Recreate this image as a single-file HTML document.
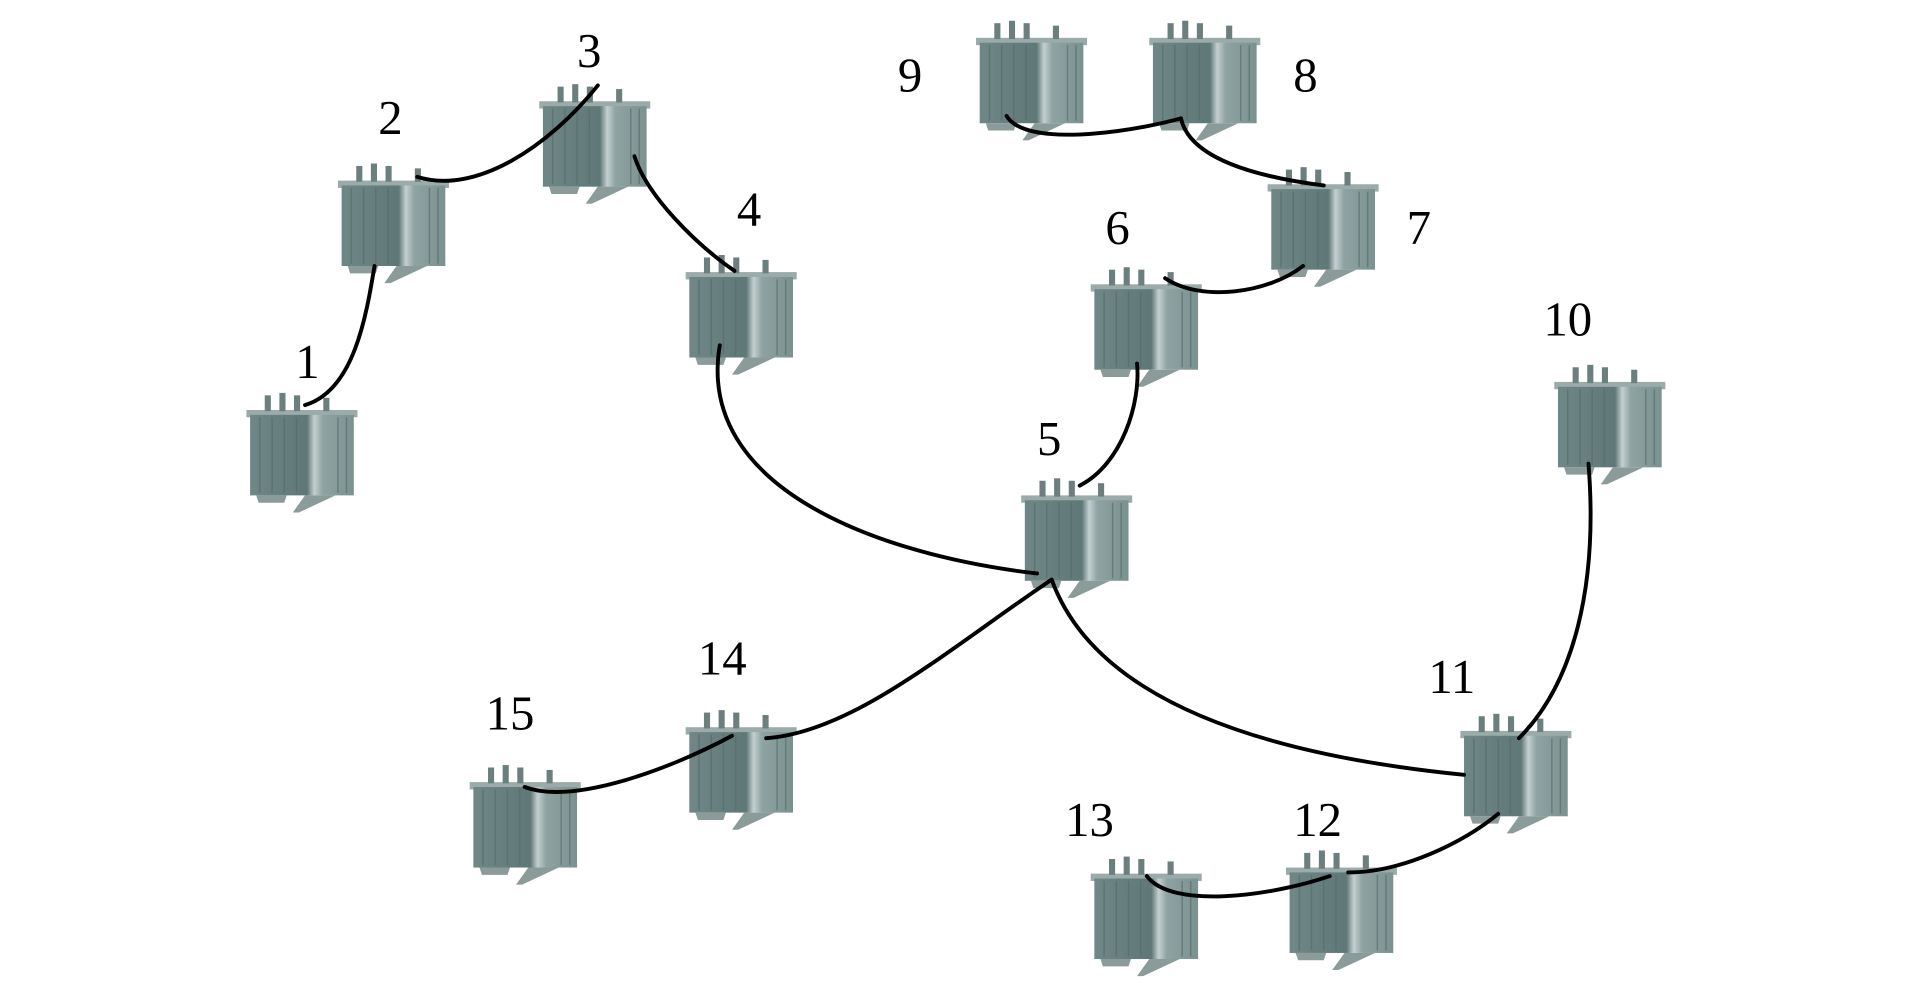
<!DOCTYPE html>
<html><head><style>html,body{margin:0;padding:0;background:#fff;}svg{display:block}</style></head>
<body>
<svg width="1913" height="992" viewBox="0 0 1568 813" preserveAspectRatio="none" xmlns="http://www.w3.org/2000/svg">
<defs>
<linearGradient id="g" x1="0" x2="1" y1="0" y2="0">
<stop offset="0" stop-color="#6f8786"/><stop offset="0.55" stop-color="#5f7877"/><stop offset="0.62" stop-color="#c4d0cf"/><stop offset="0.7" stop-color="#8ea3a2"/><stop offset="1" stop-color="#7b918f"/>
</linearGradient>
<g id="t">
<rect x="-3" y="-4" width="91" height="6" fill="#9aabaa"/>
<rect x="12" y="-16" width="5" height="13" fill="#6c7f7e"/>
<rect x="24" y="-18" width="5" height="15" fill="#6c7f7e"/>
<rect x="36" y="-16" width="5" height="13" fill="#6c7f7e"/>
<rect x="60" y="-14" width="5" height="11" fill="#6c7f7e"/>
<rect x="0" y="0" width="85" height="66" fill="url(#g)"/>
<g stroke="#51696a" stroke-width="1.2" opacity="0.6">
<line x1="8" y1="2" x2="8" y2="64"/><line x1="18" y1="2" x2="18" y2="64"/><line x1="28" y1="2" x2="28" y2="64"/><line x1="38" y1="2" x2="38" y2="64"/><line x1="72" y1="2" x2="72" y2="64"/><line x1="79" y1="2" x2="79" y2="64"/>
</g>
<polygon points="5,66 30,66 28,72 7,72" fill="#8a9b9a"/>
<polygon points="45,66 70,66 40,80 35,80" fill="#8a9b9a"/>
</g>
</defs>
<use href="#t" x="205" y="340"/>
<use href="#t" x="280" y="152"/>
<use href="#t" x="445" y="87"/>
<use href="#t" x="565" y="227"/>
<use href="#t" x="840" y="410"/>
<use href="#t" x="897" y="237"/>
<use href="#t" x="1042" y="155"/>
<use href="#t" x="945" y="35"/>
<use href="#t" x="803" y="35"/>
<use href="#t" x="1277" y="317"/>
<use href="#t" x="1200" y="603"/>
<use href="#t" x="1057" y="715"/>
<use href="#t" x="897" y="720"/>
<use href="#t" x="565" y="600"/>
<use href="#t" x="388" y="645"/>
<g fill="none" stroke="#000" stroke-width="3.2" stroke-linecap="round">
<path d="M250,332 C290,320 300,260 307,218"/>
<path d="M342,145 C390,160 450,120 490,70"/>
<path d="M520,128 C530,160 570,200 602,222"/>
<path d="M590,283 C570,400 720,455 850,470"/>
<path d="M885,398 C920,380 935,330 932,298"/>
<path d="M862,475 C780,530 700,600 628,605"/>
<path d="M862,475 C900,580 1050,620 1200,635"/>
<path d="M955,228 C985,248 1040,240 1068,218"/>
<path d="M968,97 C975,130 1030,145 1085,152"/>
<path d="M825,95 C840,120 920,110 968,97"/>
<path d="M1302,380 C1310,480 1290,560 1245,605"/>
<path d="M1228,667 C1200,690 1150,715 1105,715"/>
<path d="M940,718 C960,745 1040,735 1090,718"/>
<path d="M430,645 C470,660 550,630 600,603"/>
</g>
<g font-family="Liberation Serif, serif" font-size="40" text-anchor="middle" fill="#000">
<text x="252" y="310">1</text>
<text x="320" y="110">2</text>
<text x="483" y="55">3</text>
<text x="614" y="185">4</text>
<text x="860" y="373">5</text>
<text x="916" y="200">6</text>
<text x="1163" y="200">7</text>
<text x="1070" y="75">8</text>
<text x="746" y="75">9</text>
<text x="1285" y="275">10</text>
<text x="1190" y="568">11</text>
<text x="1080" y="685">12</text>
<text x="893" y="685">13</text>
<text x="592" y="553">14</text>
<text x="418" y="598">15</text>
</g>
</svg>
</body></html>
